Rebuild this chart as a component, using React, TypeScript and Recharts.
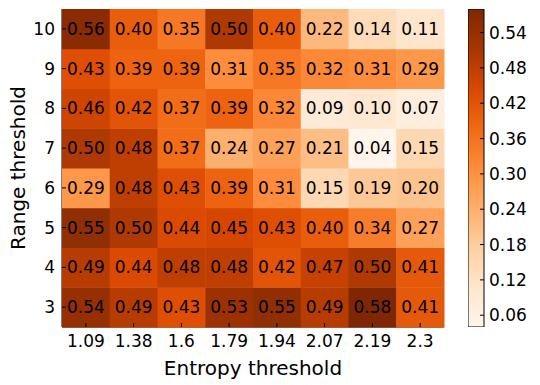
import React from "react";
import {
  ScatterChart,
  Scatter,
  XAxis,
  YAxis,
  BarChart,
  Bar,
} from "recharts";

const entropyLabels = ["1.09", "1.38", "1.6", "1.79", "1.94", "2.07", "2.19", "2.3"];
const rangeLabels = [3, 4, 5, 6, 7, 8, 9, 10];

const range10 = [0.56, 0.4, 0.35, 0.5, 0.4, 0.22, 0.14, 0.11];
const range9 = [0.43, 0.39, 0.39, 0.31, 0.35, 0.32, 0.31, 0.29];
const range8 = [0.46, 0.42, 0.37, 0.39, 0.32, 0.09, 0.1, 0.07];
const range7 = [0.5, 0.48, 0.37, 0.24, 0.27, 0.21, 0.04, 0.15];
const range6 = [0.29, 0.48, 0.43, 0.39, 0.31, 0.15, 0.19, 0.2];
const range5 = [0.55, 0.5, 0.44, 0.45, 0.43, 0.4, 0.34, 0.27];
const range4 = [0.49, 0.44, 0.48, 0.48, 0.42, 0.47, 0.5, 0.41];
const range3 = [0.54, 0.49, 0.43, 0.53, 0.55, 0.49, 0.58, 0.41];

const colorbarTicks = [0.06, 0.12, 0.18, 0.24, 0.3, 0.36, 0.42, 0.48, 0.54];
const vmin = 0.04;
const vmax = 0.58;

// matplotlib "Oranges"
const oranges = [
  "#fff5eb", "#fee6ce", "#fdd0a2", "#fdae6b", "#fd8d3c",
  "#f16913", "#d94801", "#a63603", "#7f2704",
];

const hex = (c: string) => [1, 3, 5].map((i) => parseInt(c.slice(i, i + 2), 16));

function colorFor(v: number) {
  const t = Math.max(0, Math.min(1, (v - vmin) / (vmax - vmin)));
  const pos = t * (oranges.length - 1);
  const i = Math.min(Math.floor(pos), oranges.length - 2);
  const f = pos - i;
  const a = hex(oranges[i]);
  const b = hex(oranges[i + 1]);
  const m = a.map((x, k) => Math.round(x + (b[k] - x) * f));
  return `rgb(${m[0]},${m[1]},${m[2]})`;
}

const rows: [number, number[]][] = [
  [3, range3], [4, range4], [5, range5], [6, range6],
  [7, range7], [8, range8], [9, range9], [10, range10],
];

const cells = rows.flatMap(([r, vals]) =>
  vals.map((v, i) => ({ x: i, y: r, v }))
);

const FONT = "DejaVu Sans, sans-serif";
const TICK_FS = 17;
const LABEL_FS = 20;
const W = 540;
const H = 385;
const margin = { top: 9, right: 96, bottom: 0, left: 0 };
const yAxisW = 62;
const xAxisH = 58;
const plotW = W - margin.left - margin.right - yAxisW;
const plotH = H - margin.top - margin.bottom - xAxisH;
const cellW = plotW / entropyLabels.length;
const cellH = plotH / rangeLabels.length;

const HeatCell = (props: any) => {
  const { cx, cy, payload } = props;
  return (
    <g>
      <rect
        x={cx - cellW / 2}
        y={cy - cellH / 2}
        width={cellW + 0.5}
        height={cellH + 0.5}
        fill={colorFor(payload.v)}
      />
      <text
        x={cx}
        y={cy}
        dy="0.36em"
        textAnchor="middle"
        fontSize={TICK_FS}
        fontFamily={FONT}
        fill="#000"
      >
        {payload.v.toFixed(2)}
      </text>
    </g>
  );
};

const BottomTick = (props: any) => {
  const { x, y, payload } = props;
  return (
    <g>
      <line x1={x} x2={x} y1={y} y2={y - 4} stroke="#000" />
      <text x={x} y={y + 20} textAnchor="middle" fontSize={TICK_FS} fontFamily={FONT} fill="#000">
        {entropyLabels[payload.value]}
      </text>
    </g>
  );
};

const TopTick = (props: any) => {
  const { x, y } = props;
  return <line x1={x} x2={x} y1={y} y2={y + 4} stroke="#000" />;
};

const LeftTick = (props: any) => {
  const { x, y, payload } = props;
  return (
    <g>
      <line x1={x} x2={x + 4} y1={y} y2={y} stroke="#000" />
      <text x={x - 7} y={y} dy="0.36em" textAnchor="end" fontSize={TICK_FS} fontFamily={FONT} fill="#000">
        {payload.value}
      </text>
    </g>
  );
};

const RightTick = (props: any) => {
  const { x, y } = props;
  return <line x1={x} x2={x - 4} y1={y} y2={y} stroke="#000" />;
};

const ColorbarTick = (props: any) => {
  const { x, y, payload } = props;
  return (
    <g>
      <line x1={x} x2={x - 4} y1={y} y2={y} stroke="#000" />
      <text x={x + 5} y={y} dy="0.36em" textAnchor="start" fontSize={TICK_FS} fontFamily={FONT} fill="#000">
        {payload.value.toFixed(2)}
      </text>
    </g>
  );
};

const colorbarData = [{ name: "cb", span: [vmin, vmax] }];

export default function App() {
  return (
    <div style={{ position: "fixed", left: 0, top: 0, width: W, height: H, background: "#fff" }}>
      <ScatterChart width={W} height={H} margin={margin}>
        <XAxis
          xAxisId="bottom"
          type="number"
          dataKey="x"
          domain={[-0.5, 7.5]}
          ticks={[0, 1, 2, 3, 4, 5, 6, 7]}
          interval={0}
          height={xAxisH}
          tickSize={0}
          tickMargin={0}
          tickLine={false}
          axisLine={{ stroke: "#000" }}
          tick={<BottomTick />}
          label={{
            value: "Entropy threshold",
            position: "insideBottom",
            offset: 10,
            fontSize: LABEL_FS,
            fontFamily: FONT,
            fill: "#000",
          }}
        />
        <XAxis
          xAxisId="top"
          orientation="top"
          type="number"
          dataKey="x"
          domain={[-0.5, 7.5]}
          ticks={[0, 1, 2, 3, 4, 5, 6, 7]}
          interval={0}
          height={0}
          tickSize={0}
          tickMargin={0}
          tickLine={false}
          axisLine={{ stroke: "#000" }}
          tick={<TopTick />}
        />
        <YAxis
          yAxisId="left"
          type="number"
          dataKey="y"
          domain={[2.5, 10.5]}
          ticks={rangeLabels}
          interval={0}
          width={yAxisW}
          tickSize={0}
          tickMargin={0}
          tickLine={false}
          axisLine={{ stroke: "#000" }}
          tick={<LeftTick />}
          label={{
            value: "Range threshold",
            angle: -90,
            position: "insideLeft",
            offset: 18,
            fontSize: LABEL_FS,
            fontFamily: FONT,
            fill: "#000",
            style: { textAnchor: "middle" },
          }}
        />
        <YAxis
          yAxisId="right"
          orientation="right"
          type="number"
          dataKey="y"
          domain={[2.5, 10.5]}
          ticks={rangeLabels}
          interval={0}
          width={0}
          tickSize={0}
          tickMargin={0}
          tickLine={false}
          axisLine={{ stroke: "#000" }}
          tick={<RightTick />}
        />
        <Scatter
          data={cells}
          xAxisId="bottom"
          yAxisId="left"
          shape={<HeatCell />}
          isAnimationActive={false}
        />
        <Scatter
          data={cells}
          xAxisId="top"
          yAxisId="right"
          shape={() => <g />}
          isAnimationActive={false}
        />
      </ScatterChart>
      <div style={{ position: "absolute", left: 468, top: 0 }}>
        <BarChart
          width={72}
          height={H}
          data={colorbarData}
          margin={{ top: 9, right: 0, bottom: xAxisH, left: 0 }}
          barCategoryGap={0}
        >
          <defs>
            <linearGradient id="cbGrad" x1="0" y1="1" x2="0" y2="0">
              {oranges.map((c, i) => (
                <stop key={i} offset={i / (oranges.length - 1)} stopColor={c} />
              ))}
            </linearGradient>
          </defs>
          <XAxis dataKey="name" hide />
          <YAxis
            orientation="right"
            type="number"
            domain={[vmin, vmax]}
            ticks={colorbarTicks}
            interval={0}
            width={56}
            tickSize={0}
            tickMargin={0}
            tickLine={false}
            axisLine={false}
            tick={<ColorbarTick />}
            allowDataOverflow
          />
          <Bar
            dataKey="span"
            fill="url(#cbGrad)"
            stroke="#000"
            strokeWidth={1}
            isAnimationActive={false}
          />
        </BarChart>
      </div>
    </div>
  );
}
